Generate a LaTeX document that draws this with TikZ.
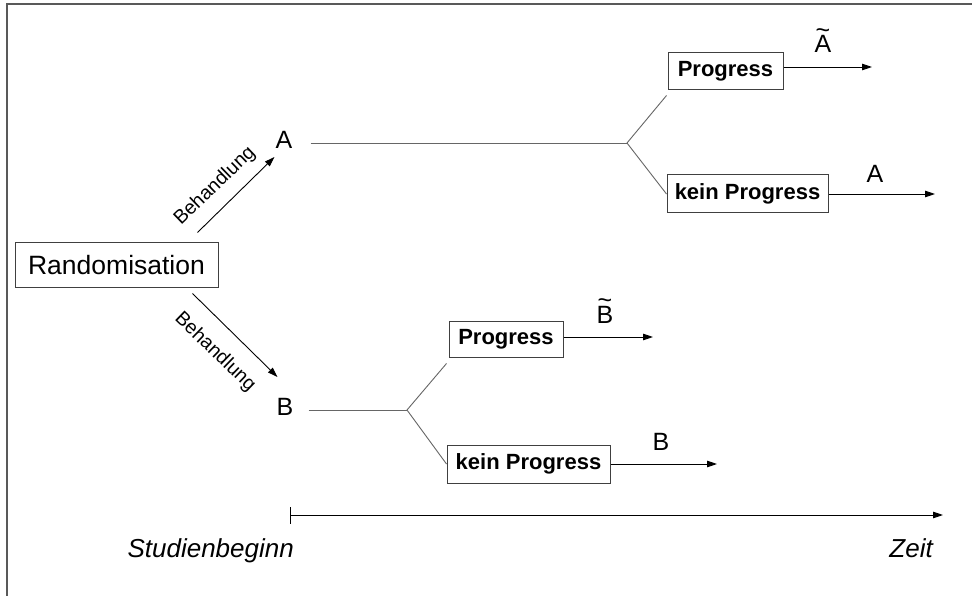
\documentclass[tikz,border=0pt]{standalone}
\usepackage{fontspec}
\setmainfont{Liberation Sans}
\usetikzlibrary{arrows.meta,calc}
\begin{document}
\begin{tikzpicture}[x=1pt,y=-1pt,
 box/.style={draw=black!75,line width=1pt,inner sep=0pt,font=\fontsize{22}{26}\selectfont\bfseries},
 lbl/.style={inner sep=0pt,anchor=base,font=\fontsize{25}{29}\selectfont},
 beh/.style={inner sep=0pt,font=\fontsize{19.5}{23}\selectfont},
 arr/.style={line width=0.9pt,draw=black,-{Triangle[length=10pt,width=6.5pt]}},
 branch/.style={line width=0.9pt,draw=black!60},
 axislbl/.style={inner sep=0pt,anchor=base east,font=\fontsize{26}{30}\selectfont\itshape},
]
\useasboundingbox (0,0) rectangle (972,596);
\fill[white] (0,0) rectangle (972,596);
\draw[line width=2pt,black!65] (7,596) -- (7,4) -- (972,4);

% main nodes
\node[draw=black!75,line width=1pt,minimum width=203pt,minimum height=44pt,inner sep=0pt,font=\fontsize{26.5}{31}\selectfont] (rand) at (116.5,265) {Randomisation};
\node[lbl] (A) at (284,149) {A};
\node[lbl] (B) at (285,415) {B};

\draw[arr] ($(rand.north east)+(-21,-10)$) -- ($(A.base west)+(-1,8)$);
\draw[arr] ($(rand.south east)+(-26,6)$) -- ($(B.base west)+(1,-38)$);
\node[beh,rotate=44] (beh1) at (215,186) {Behandlung};
\node[beh,rotate=-44] (beh2) at (215,352) {Behandlung};

% branch points
\coordinate (jA) at (627,143);
\coordinate (jB) at (407,410);

% boxes
\node[box,minimum width=115pt,minimum height=37pt] (pA) at (725.5,71.5) {Progress};
\node[box,minimum width=161pt,minimum height=38pt] (kA) at (747.5,194) {kein Progress};
\node[box,minimum width=114pt,minimum height=36pt] (pB) at (506,339) {Progress};
\node[box,minimum width=163pt,minimum height=38pt] (kB) at (528.5,464) {kein Progress};

% trunks and branches
\draw[branch] ($(A.base east)+(18,-6)$) -- (jA);
\draw[branch] ($(B.base east)+(15,-5)$) -- (jB);
\draw[branch] ($(pA.south west)+(-1,5)$) -- (jA) -- (kA.west);
\draw[branch] ($(pB.south west)+(-2,6)$) -- (jB) -- (kB.west);

% outgoing arrows
\coordinate (eA1) at (872,67);
\coordinate (eA2) at (935,194);
\coordinate (eB1) at (653,337);
\coordinate (eB2) at (717,464);
\draw[arr] (pA.east |- eA1) -- (eA1);
\draw[arr] (kA.east) -- (eA2);
\draw[arr] (pB.east |- eB1) -- (eB1);
\draw[arr] (kB.east) -- (eB2);

% labels over arrows
\node[lbl] (At) at (823,53) {\ooalign{\hfil\raisebox{14pt}{\char"7E}\hfil\cr A\cr}};
\node[lbl] (Bt) at (605,323) {\ooalign{\hfil\raisebox{14pt}{\char"7E}\hfil\cr B\cr}};
\node[lbl] (A2) at (875,183) {A};
\node[lbl] (B2) at (661,450) {B};

% time axis
\coordinate (t0) at (290,515);
\coordinate (t1) at (943,515);
\draw[arr] (t0) -- (t1);
\draw[line width=0.9pt] ($(t0)+(0,-8)$) -- ($(t0)+(0,9)$);
\node[axislbl] (sb) at (294,557) {Studienbeginn};
\node[axislbl] (zeit) at (933,557) {Zeit};
\end{tikzpicture}
\end{document}
